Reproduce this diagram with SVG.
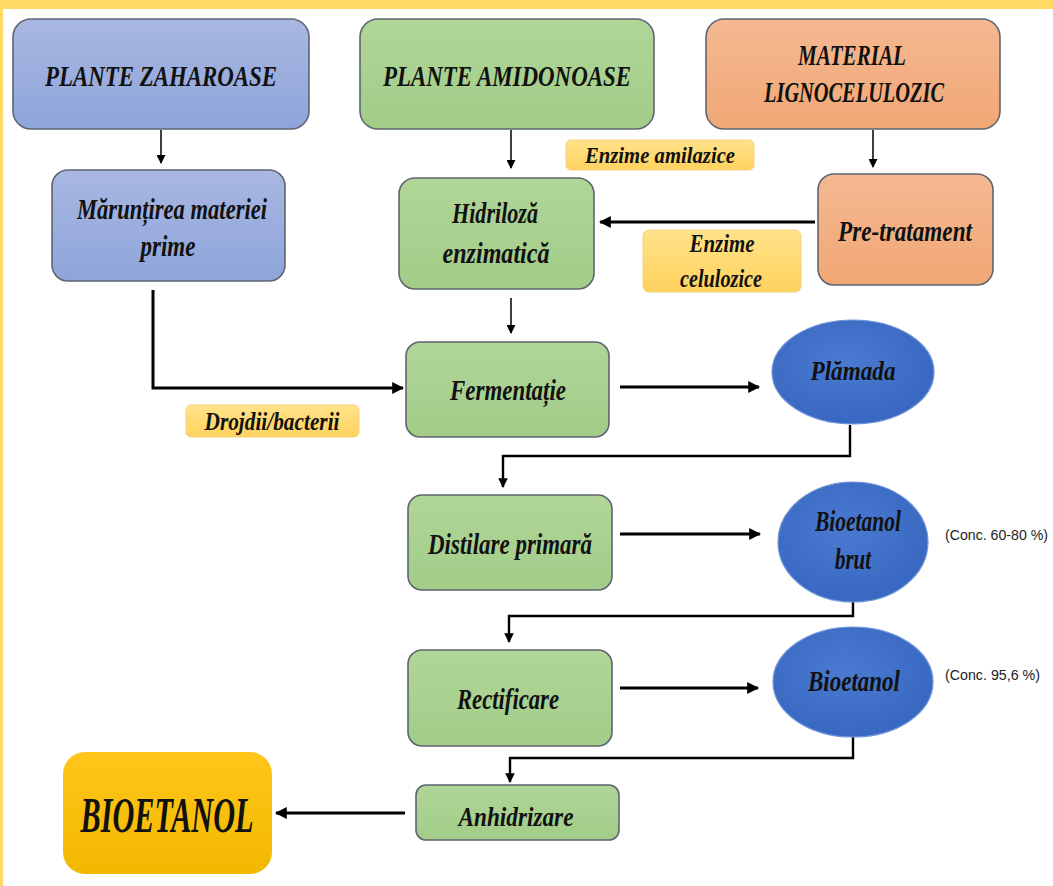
<svg xmlns="http://www.w3.org/2000/svg" width="1053" height="886" viewBox="0 0 1053 886">
<defs>
<linearGradient id="gBlue" x1="0" y1="0" x2="0" y2="1"><stop offset="0" stop-color="#A9B7E2"/><stop offset="1" stop-color="#8EA5DA"/></linearGradient>
<linearGradient id="gGreen" x1="0" y1="0" x2="0" y2="1"><stop offset="0" stop-color="#B0D698"/><stop offset="1" stop-color="#A2CC88"/></linearGradient>
<linearGradient id="gOrange" x1="0" y1="0" x2="0" y2="1"><stop offset="0" stop-color="#F5B891"/><stop offset="1" stop-color="#F1A775"/></linearGradient>
<linearGradient id="gYellow" x1="0" y1="0" x2="0" y2="1"><stop offset="0" stop-color="#FFE28A"/><stop offset="1" stop-color="#FFD25E"/></linearGradient>
<linearGradient id="gGold" x1="0" y1="0" x2="0" y2="1"><stop offset="0" stop-color="#FFC61A"/><stop offset="1" stop-color="#F2B800"/></linearGradient>
<radialGradient id="gEll" cx="0.45" cy="0.4" r="0.65"><stop offset="0" stop-color="#4A7AD0"/><stop offset="1" stop-color="#3766C0"/></radialGradient>
<marker id="ah" viewBox="0 0 10 10" refX="9" refY="5" markerWidth="4" markerHeight="4" orient="auto"><path d="M0,0 L10,5 L0,10 z" fill="#000"/></marker>
<marker id="ahs" viewBox="0 0 10 10" refX="9" refY="5" markerWidth="6" markerHeight="6" orient="auto"><path d="M0,0 L10,5 L0,10 z" fill="#000"/></marker>
</defs>
<style>
.box{stroke:#5E6470;stroke-width:1.6}
.ell{stroke:#6F95D8;stroke-width:1.2}
.lab{stroke:#F5D27A;stroke-width:1}
.t{font-family:"Liberation Serif","Times New Roman",serif;font-weight:bold;font-style:italic;fill:#111;text-anchor:middle}
.c{font-family:"Liberation Sans",Arial,sans-serif;font-size:14px;fill:#222}
.thick{stroke:#000;stroke-width:3;fill:none}
.thin{stroke:#000;stroke-width:1.5;fill:none}
</style>
<rect x="0" y="0" width="1053" height="886" fill="#FFFFFF"/>
<rect x="0" y="0" width="1053" height="9" fill="#FFD966"/>
<rect x="0" y="0" width="3" height="886" fill="#FFD966"/>

<g id="connectors">
<path class="thin" d="M161,130 V163" marker-end="url(#ahs)"/>
<path class="thin" d="M511,130 V168" marker-end="url(#ahs)"/>
<path class="thin" d="M873,130 V167" marker-end="url(#ahs)"/>
<path class="thick" d="M815,222 H600" marker-end="url(#ah)"/>
<path class="thick" d="M153,290 V388 H403" marker-end="url(#ah)"/>
<path class="thin" d="M511,298 V333" marker-end="url(#ahs)"/>
<path class="thick" d="M620,387 H759" marker-end="url(#ah)"/>
<path class="thick" d="M850,425 V456 H503 V487" marker-end="url(#ah)" style="stroke-width:2.4"/>
<path class="thick" d="M620,534 H760" marker-end="url(#ah)"/>
<path class="thick" d="M853,592 V616 H509 V642" marker-end="url(#ah)" style="stroke-width:2.4"/>
<path class="thick" d="M620,688 H758" marker-end="url(#ah)"/>
<path class="thick" d="M853,730 V758 H510 V782" marker-end="url(#ah)" style="stroke-width:2.4"/>
<path class="thick" d="M405,813 H276" marker-end="url(#ah)"/>
</g>

<g id="plante-zaharoase"><rect class="box" x="13" y="19" width="296" height="110" rx="18" fill="url(#gBlue)"/><text class="t" x="161" y="86" font-size="30" textLength="232" lengthAdjust="spacingAndGlyphs">PLANTE ZAHAROASE</text></g>
<g id="plante-amidonoase"><rect class="box" x="360" y="19" width="294" height="110" rx="18" fill="url(#gGreen)"/><text class="t" x="507" y="86" font-size="30" textLength="248" lengthAdjust="spacingAndGlyphs">PLANTE AMIDONOASE</text></g>
<g id="material-lignocelulozic"><rect class="box" x="706" y="19" width="294" height="110" rx="18" fill="url(#gOrange)"/><text class="t" x="852" y="65" font-size="30" textLength="108" lengthAdjust="spacingAndGlyphs">MATERIAL</text><text class="t" x="854" y="102" font-size="30" textLength="180" lengthAdjust="spacingAndGlyphs">LIGNOCELULOZIC</text></g>

<g id="maruntirea"><rect class="box" x="52" y="170" width="233" height="111" rx="16" fill="url(#gBlue)"/><text class="t" x="172" y="219" font-size="29" textLength="190" lengthAdjust="spacingAndGlyphs">Mărunțirea materiei</text><text class="t" x="168" y="256" font-size="29" textLength="55" lengthAdjust="spacingAndGlyphs">prime</text></g>
<g id="hidroliza"><rect class="box" x="399" y="178" width="195" height="111" rx="16" fill="url(#gGreen)"/><text class="t" x="495" y="223" font-size="29" textLength="86" lengthAdjust="spacingAndGlyphs">Hidriloză</text><text class="t" x="496" y="263" font-size="29" textLength="107" lengthAdjust="spacingAndGlyphs">enzimatică</text></g>
<g id="pre-tratament"><rect class="box" x="818" y="174" width="175" height="111" rx="16" fill="url(#gOrange)"/><text class="t" x="905" y="241" font-size="29" textLength="134" lengthAdjust="spacingAndGlyphs">Pre-tratament</text></g>

<g id="enzime-amilazice"><rect class="lab" x="566" y="140" width="188" height="30" rx="5" fill="url(#gYellow)"/><text class="t" x="660" y="163" font-size="23" textLength="150" lengthAdjust="spacingAndGlyphs">Enzime amilazice</text></g>
<g id="enzime-celulozice"><rect class="lab" x="643" y="230" width="158" height="62" rx="6" fill="url(#gYellow)"/><text class="t" x="722" y="252" font-size="25" textLength="65" lengthAdjust="spacingAndGlyphs">Enzime</text><text class="t" x="721" y="287" font-size="25" textLength="82" lengthAdjust="spacingAndGlyphs">celulozice</text></g>

<g id="fermentatie"><rect class="box" x="406" y="342" width="203" height="95" rx="14" fill="url(#gGreen)"/><text class="t" x="508" y="400" font-size="29" textLength="116" lengthAdjust="spacingAndGlyphs">Fermentație</text></g>
<g id="drojdii"><rect class="lab" x="186" y="405" width="173" height="32" rx="5" fill="url(#gYellow)"/><text class="t" x="272" y="430" font-size="25" textLength="135" lengthAdjust="spacingAndGlyphs">Drojdii/bacterii</text></g>
<g id="plamada"><ellipse class="ell" cx="853" cy="372" rx="81" ry="52" fill="url(#gEll)"/><text class="t" x="853" y="380" font-size="27" textLength="85" lengthAdjust="spacingAndGlyphs">Plămada</text></g>

<g id="distilare"><rect class="box" x="408" y="495" width="204" height="95" rx="14" fill="url(#gGreen)"/><text class="t" x="510" y="554" font-size="29" textLength="164" lengthAdjust="spacingAndGlyphs">Distilare primară</text></g>
<g id="bioetanol-brut"><ellipse class="ell" cx="853" cy="542" rx="75" ry="60" fill="url(#gEll)"/><text class="t" x="858" y="531" font-size="29" textLength="86" lengthAdjust="spacingAndGlyphs">Bioetanol</text><text class="t" x="853" y="569" font-size="29" textLength="36" lengthAdjust="spacingAndGlyphs">brut</text></g>
<g id="conc1"><text class="c" x="945" y="540" textLength="103" lengthAdjust="spacingAndGlyphs">(Conc. 60-80 %)</text></g>

<g id="rectificare"><rect class="box" x="408" y="650" width="204" height="96" rx="14" fill="url(#gGreen)"/><text class="t" x="508" y="709" font-size="29" textLength="102" lengthAdjust="spacingAndGlyphs">Rectificare</text></g>
<g id="bioetanol"><ellipse class="ell" cx="853" cy="682" rx="80" ry="55" fill="url(#gEll)"/><text class="t" x="854" y="691" font-size="29" textLength="92" lengthAdjust="spacingAndGlyphs">Bioetanol</text></g>
<g id="conc2"><text class="c" x="945" y="680" textLength="95" lengthAdjust="spacingAndGlyphs">(Conc. 95,6 %)</text></g>

<g id="anhidrizare"><rect class="box" x="416" y="785" width="203" height="55" rx="10" fill="url(#gGreen)"/><text class="t" x="516" y="826" font-size="27" textLength="115" lengthAdjust="spacingAndGlyphs">Anhidrizare</text></g>
<g id="bioetanol-final"><rect x="63" y="752" width="209" height="122" rx="22" fill="url(#gGold)"/><text class="t" x="167" y="832" font-size="50" textLength="173" lengthAdjust="spacingAndGlyphs">BIOETANOL</text></g>
</svg>
